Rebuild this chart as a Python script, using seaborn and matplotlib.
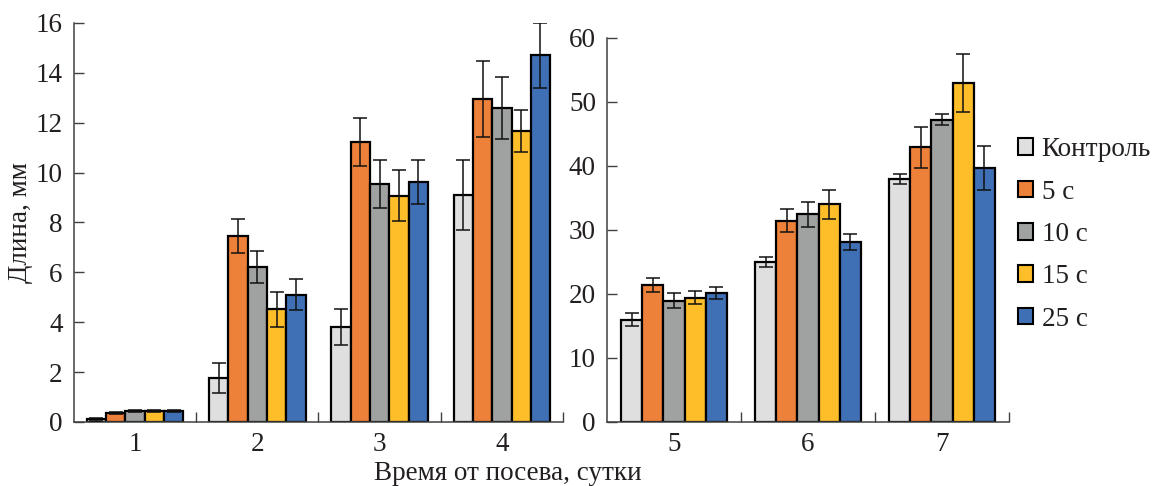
import matplotlib.pyplot as plt
from matplotlib.patches import Patch
from matplotlib.ticker import FixedLocator
import pandas as pd
import seaborn as sns

# days on each panel
days_left = ["1", "2", "3", "4"]
days_right = ["5", "6", "7"]
groups = ["Контроль", "5 с", "10 с", "15 с", "25 с"]
colors = ["#dfdfdf", "#ee8139", "#a0a2a2", "#fdbe2a", "#3f70b6"]

# mean length, mm (days 1-4)
ctrl_l = [0.11, 1.78, 3.81, 9.10]
s5_l = [0.37, 7.46, 11.24, 12.96]
s10_l = [0.44, 6.22, 9.54, 12.60]
s15_l = [0.44, 4.52, 9.08, 11.67]
s25_l = [0.44, 5.11, 9.63, 14.70]
# error, mm
ctrl_le = [0.06, 0.60, 0.71, 1.41]
s5_le = [0.04, 0.67, 0.96, 1.53]
s10_le = [0.04, 0.64, 0.97, 1.25]
s15_le = [0.04, 0.71, 1.03, 0.84]
s25_le = [0.04, 0.62, 0.88, 1.29]

# mean length, mm (days 5-7)
ctrl_r = [16.0, 25.0, 37.9]
s5_r = [21.35, 31.4, 42.9]
s10_r = [18.96, 32.4, 47.2]
s15_r = [19.4, 34.0, 52.9]
s25_r = [20.1, 28.1, 39.7]
ctrl_re = [1.0, 0.8, 0.8]
s5_re = [1.1, 1.8, 3.2]
s10_re = [1.2, 2.0, 0.9]
s15_re = [1.0, 2.3, 4.5]
s25_re = [0.9, 1.3, 3.4]

sns.set_style("white")
plt.rcParams["font.family"] = ["Liberation Serif", "DejaVu Serif"]
plt.rcParams["text.color"] = "#231f20"
plt.rcParams["axes.labelcolor"] = "#231f20"
plt.rcParams["xtick.color"] = "#231f20"
plt.rcParams["ytick.color"] = "#231f20"
FS = 19.5


def panel(ax, days, vals, errs, ymax, ystep):
    rows = []
    for g, v in zip(groups, vals):
        for d, y in zip(days, v):
            rows.append({"day": d, "group": g, "length": y})
    df = pd.DataFrame(rows)
    sns.barplot(data=df, x="day", y="length", hue="group", hue_order=groups,
                palette=colors, saturation=1, width=0.79, edgecolor="black",
                linewidth=1.6, errorbar=None, legend=False, ax=ax)
    for cont, v, e in zip(ax.containers, vals, errs):
        xs = [b.get_x() + b.get_width() / 2 for b in cont]
        ax.errorbar(xs, v, yerr=e, fmt="none", ecolor="#111111",
                    elinewidth=1.1, capsize=5, capthick=1.1, zorder=5)
    ax.set_xlim(-0.5, len(days) - 0.5)
    ax.set_ylim(0, ymax)
    ax.set_yticks(range(0, ymax + 1, ystep))
    ax.set_xlabel("")
    ax.set_ylabel("")
    ax.xaxis.set_minor_locator(FixedLocator([i + 0.5 for i in range(len(days))]))
    ax.tick_params(axis="x", which="major", length=0, pad=7, labelsize=FS)
    ax.tick_params(axis="x", which="minor", direction="in", length=7, width=1,
                   color="#404040", bottom=True)
    ax.tick_params(axis="y", direction="in", length=7, width=1, pad=8,
                   color="#404040", labelsize=FS, left=True)
    sns.despine(ax=ax)
    for s in ["left", "bottom"]:
        ax.spines[s].set_color("#404040")
        ax.spines[s].set_linewidth(1.1)


fig = plt.figure(figsize=(11.56, 4.86), dpi=100)
ax1 = fig.add_axes([0.0640, 0.1317, 0.4230, 0.8210])
ax2 = fig.add_axes([0.5251, 0.1317, 0.3478, 0.7907])

panel(ax1, days_left, [ctrl_l, s5_l, s10_l, s15_l, s25_l],
      [ctrl_le, s5_le, s10_le, s15_le, s25_le], 16, 2)
panel(ax2, days_right, [ctrl_r, s5_r, s10_r, s15_r, s25_r],
      [ctrl_re, s5_re, s10_re, s15_re, s25_re], 60, 10)

ax1.set_ylabel("Длина, мм", fontsize=FS, labelpad=2)
fig.text(508 / 1156, 1 - 473 / 486, "Время от посева, сутки", fontsize=FS,
         ha="center", va="center")

handles = [Patch(facecolor=c, edgecolor="black", linewidth=1.5) for c in colors]
fig.legend(handles, groups, loc="center left", bbox_to_anchor=(0.8806, 0.5175),
           frameon=False, fontsize=FS, handlelength=0.57, handleheight=0.57,
           handletextpad=0.3, labelspacing=0.64, borderpad=0, borderaxespad=0)

fig.savefig("out.png", dpi=100)
